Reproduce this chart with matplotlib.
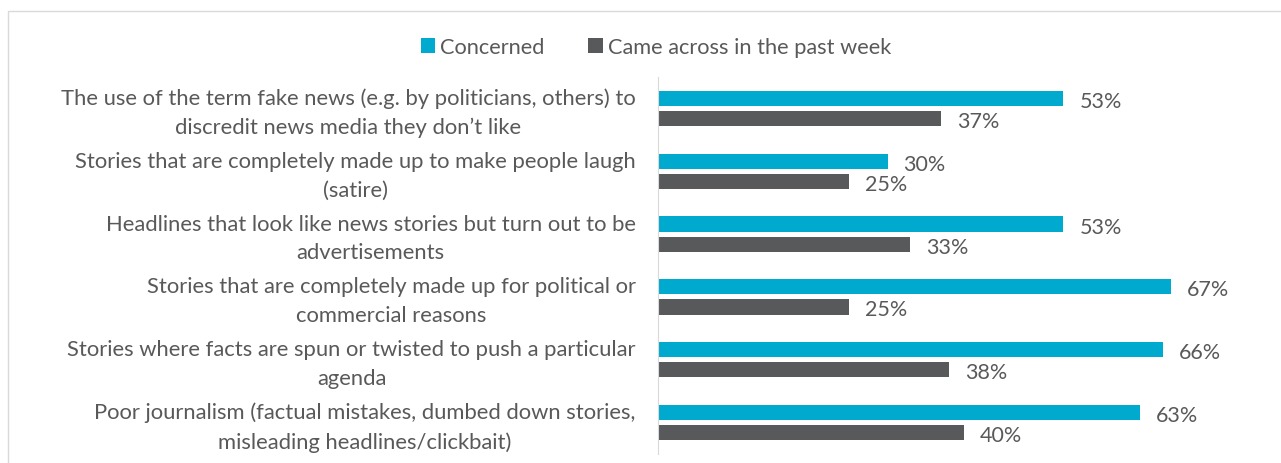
import numpy as np
import matplotlib.pyplot as plt
import matplotlib.transforms as mtransforms
from matplotlib.patches import Rectangle

plt.rcParams['font.family'] = ['Lato', 'DejaVu Sans']

categories = [
    "The use of the term fake news (e.g. by politicians, others) to\ndiscredit news media they don\u2019t like",
    "Stories that are completely made up to make people laugh\n(satire)",
    "Headlines that look like news stories but turn out to be\nadvertisements",
    "Stories that are completely made up for political or\ncommercial reasons",
    "Stories where facts are spun or twisted to push a particular\nagenda",
    "Poor journalism (factual mistakes, dumbed down stories,\nmisleading headlines/clickbait)",
]
concerned = [53, 30, 53, 67, 66, 63]
came_across = [37, 25, 33, 25, 38, 40]

c_blue = "#00A9CE"
c_grey = "#58595B"
txt = "#595959"

fig = plt.figure(figsize=(12.81, 4.64), dpi=100)
fig.patches.append(Rectangle((8 / 1281, -0.1), 1.2, 0.1 + (464 - 12) / 464,
                             transform=fig.transFigure, fill=False,
                             edgecolor="#D9D9D9", linewidth=1))
ax = fig.add_axes([658 / 1281, 9 / 464, 612 / 1281, 377 / 464])

y = np.arange(len(categories))
h = 0.24
off = 0.16
b1 = ax.barh(y - off, concerned, height=h, color=c_blue, label="Concerned")
b2 = ax.barh(y + off, came_across, height=h, color=c_grey, label="Came across in the past week")

for bars in (b1, b2):
    for r in bars:
        ax.text(r.get_width() + 2.1, r.get_y() + r.get_height() / 2 + 0.04,
                f"{r.get_width():.0f}%", va="center", ha="left",
                fontsize=15.5, color=txt)

ax.set_ylim(len(categories) - 0.5, -0.5)
ax.set_xlim(0, 80)
ax.set_yticks(y)
ax.set_yticklabels(categories, fontsize=15.8, color=txt,
                   multialignment="center", linespacing=1.55)
ax.tick_params(axis="y", length=0, pad=16)
# nudge category labels up a little
shift = mtransforms.ScaledTranslation(0, 2.5 / 100, fig.dpi_scale_trans)
for lbl in ax.get_yticklabels():
    lbl.set_transform(lbl.get_transform() + shift)
ax.set_xticks([])
for s in ["top", "right", "bottom"]:
    ax.spines[s].set_visible(False)
ax.spines["left"].set_color("#D9D9D9")

fig.legend(handles=[b1, b2], loc="center", bbox_to_anchor=(656 / 1281, 1 - 48 / 464),
           ncol=2, frameon=False, fontsize=15.7, labelcolor=txt,
           handlelength=0.65, handleheight=0.65, handletextpad=0.25, columnspacing=2.0)

fig.savefig("out.png", dpi=100)
